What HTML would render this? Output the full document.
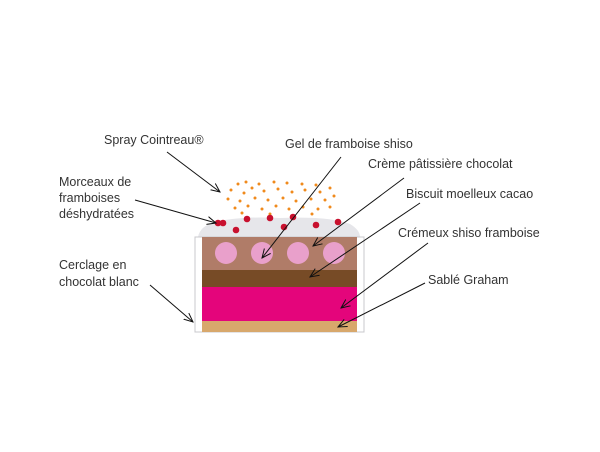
<!DOCTYPE html>
<html><head><meta charset="utf-8"><style>
html,body{margin:0;padding:0;background:#fff;}
svg{display:block;}
text{font-family:"Liberation Sans",sans-serif;font-size:12.5px;fill:#333;}
</style></head><body>
<svg width="600" height="452" viewBox="0 0 600 452">
<defs><marker id="a" markerWidth="10" markerHeight="10" refX="9" refY="5" orient="auto" markerUnits="userSpaceOnUse"><path d="M0,1 L9,5 L0,9" fill="none" stroke="#111" stroke-width="1"/></marker></defs>
<path d="M198,237 Q200,226 215,222 Q240,216 280,218 Q330,216 350,224 Q360,230 360,237 Z" fill="#e6e6ea"/>
<rect x="195" y="237" width="169" height="95" fill="#fff" stroke="#c8c8cc" stroke-width="1"/>
<rect x="202" y="237" width="155" height="33" fill="#b07c68"/>
<rect x="202" y="270" width="155" height="17" fill="#774b26"/>
<rect x="202" y="287" width="155" height="34" fill="#e4057b"/>
<rect x="202" y="321" width="155" height="11" fill="#d8a86c"/>
<g fill="#e9a0cb"><circle cx="226" cy="253" r="11"/><circle cx="262" cy="253" r="11"/><circle cx="298" cy="253" r="11"/><circle cx="334" cy="253" r="11"/></g>
<g fill="#f08a1c">
<circle cx="238" cy="184" r="1.5"/><circle cx="246" cy="182" r="1.5"/><circle cx="259" cy="184" r="1.5"/><circle cx="274" cy="182" r="1.5"/><circle cx="287" cy="183" r="1.5"/><circle cx="302" cy="184" r="1.5"/><circle cx="316" cy="185" r="1.5"/><circle cx="231" cy="190" r="1.5"/><circle cx="244" cy="193" r="1.5"/><circle cx="252" cy="188" r="1.5"/><circle cx="264" cy="191" r="1.5"/><circle cx="278" cy="189" r="1.5"/><circle cx="292" cy="192" r="1.5"/><circle cx="305" cy="190" r="1.5"/><circle cx="320" cy="192" r="1.5"/><circle cx="330" cy="188" r="1.5"/><circle cx="228" cy="199" r="1.5"/><circle cx="240" cy="201" r="1.5"/><circle cx="255" cy="198" r="1.5"/><circle cx="268" cy="200" r="1.5"/><circle cx="283" cy="198" r="1.5"/><circle cx="296" cy="201" r="1.5"/><circle cx="311" cy="199" r="1.5"/><circle cx="325" cy="200" r="1.5"/><circle cx="334" cy="196" r="1.5"/><circle cx="235" cy="208" r="1.5"/><circle cx="248" cy="206" r="1.5"/><circle cx="262" cy="209" r="1.5"/><circle cx="276" cy="206" r="1.5"/><circle cx="289" cy="209" r="1.5"/><circle cx="303" cy="207" r="1.5"/><circle cx="318" cy="209" r="1.5"/><circle cx="330" cy="207" r="1.5"/><circle cx="242" cy="213" r="1.5"/><circle cx="270" cy="214" r="1.5"/><circle cx="312" cy="214" r="1.5"/>
</g>
<g fill="#c8102e">
<circle cx="218" cy="223" r="3.3"/><circle cx="223" cy="223" r="3.3"/><circle cx="236" cy="230" r="3.3"/><circle cx="247" cy="219" r="3.3"/><circle cx="270" cy="218" r="3.3"/><circle cx="284" cy="227" r="3.3"/><circle cx="293" cy="217" r="3.3"/><circle cx="316" cy="225" r="3.3"/><circle cx="338" cy="222" r="3.3"/>
</g>
<g stroke="#111" stroke-width="1" fill="none" marker-end="url(#a)">
<line x1="167" y1="152" x2="220" y2="192"/>
<line x1="135" y1="200" x2="216" y2="223"/>
<line x1="150" y1="285" x2="193" y2="322"/>
<line x1="341" y1="157" x2="262" y2="258"/>
<line x1="404" y1="178" x2="313" y2="246"/>
<line x1="420" y1="203" x2="310" y2="277"/>
<line x1="428" y1="243" x2="341" y2="308"/>
<line x1="425" y1="283" x2="338" y2="327"/>
</g>
<text x="104" y="144">Spray Cointreau®</text>
<text x="59" y="186">Morceaux de</text>
<text x="59" y="202">framboises</text>
<text x="59" y="218">déshydratées</text>
<text x="59" y="269">Cerclage en</text>
<text x="59" y="286">chocolat blanc</text>
<text x="285" y="148">Gel de framboise shiso</text>
<text x="368" y="168">Crème pâtissière chocolat</text>
<text x="406" y="198">Biscuit moelleux cacao</text>
<text x="398" y="237">Crémeux shiso framboise</text>
<text x="428" y="284">Sablé Graham</text>
</svg>
</body></html>
